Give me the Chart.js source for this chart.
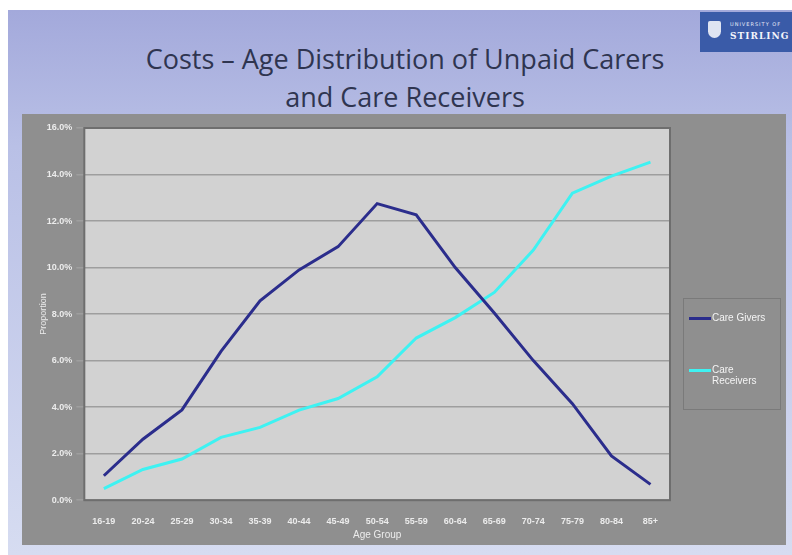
<!DOCTYPE html>
<html>
<head>
<meta charset="utf-8">
<script src="https://cdn.jsdelivr.net/npm/chart.js@4.4.0/dist/chart.umd.min.js"></script>
<style>
  body { margin: 0; background: #fff; width: 792px; height: 555px; overflow: hidden; }
  #slide {
    position: absolute; left: 8px; top: 10px; width: 784px; height: 545px;
    background: linear-gradient(to bottom, #a3a9db 0%, #b9c0e6 25%, #d6dcf1 100%);
  }
  #title {
    position: absolute; left: 0; top: 40px; width: 810px; text-align: center;
    font-family: "Open Sans", sans-serif; font-size: 27px; line-height: 38px; color: #2f3550;
  }
  #logo {
    position: absolute; left: 700px; top: 12px; width: 92px; height: 40px; background: #3a5ba8;
  }
  #logo .shield { position: absolute; left: 8px; top: 9px; width: 13px; height: 17px; background: #dfe4f2; border-radius: 2px 2px 7px 7px; }
  #logo .t1 { position: absolute; left: 30px; top: 9px; font: 5px "DejaVu Sans", sans-serif; color: #e8ecf8; letter-spacing: 1px; }
  #logo .t2 { position: absolute; left: 30px; top: 19px; font: bold 9px "DejaVu Serif", serif; color: #f2f4fb; letter-spacing: 1px; }
  #box { position: absolute; left: 22px; top: 114px; width: 764px; height: 431px; background: #8f8f8f; }
  #legend {
    position: absolute; left: 683px; top: 298px; width: 98px; height: 112px;
    border: 1px solid #7a7a7a; box-sizing: border-box;
    font-family: "Liberation Sans", sans-serif; font-size: 10px; color: #f4f4f4;
  }
  .item { position: absolute; left: 5px; }
  .swatch { display: inline-block; width: 22px; height: 3px; vertical-align: middle; margin-right: 1px; }
</style>
</head>
<body>
<div id="slide"></div>
<div id="title">Costs – Age Distribution of Unpaid Carers<br>and Care Receivers</div>
<div id="logo"><div class="shield"></div><div class="t1">UNIVERSITY OF</div><div class="t2">STIRLING</div></div>
<div id="box"><canvas id="myChart" width="764" height="431"></canvas></div>
<div id="legend">
  <div class="item" style="top:13px"><span class="swatch" style="background:#2b2d8c"></span>Care Givers</div>
  <div class="item" style="top:65px"><span class="swatch" style="background:#3ef2f2"></span>Care<br><span style="padding-left:23px">Receivers</span></div>
</div>
<script>
const ctx = document.getElementById('myChart');

// dati
let gruppiEta = ["16-19","20-24","25-29","30-34","35-39","40-44","45-49","50-54","55-59","60-64","65-69","70-74","75-79","80-84","85+"];
let careGivers = [1.05, 2.62, 3.88, 6.4, 8.57, 9.9, 10.9, 12.75, 12.27, 10.0, 8.05, 6.0, 4.15, 1.9, 0.68];
let careReceivers = [0.5, 1.32, 1.77, 2.7, 3.13, 3.87, 4.37, 5.3, 6.97, 7.85, 8.93, 10.75, 13.2, 13.93, 14.53];
let tickY = [0, 2, 4, 6, 8, 10, 12, 14, 16];

// sfondo grigio chiaro dell'area del grafico
const sfondoArea = {
  id: 'sfondoArea',
  beforeDraw(chart) {
    const a = chart.chartArea;
    const c = chart.ctx;
    c.save();
    c.fillStyle = '#d2d2d2';
    c.fillRect(a.left, a.top, a.right - a.left, a.bottom - a.top);
    c.restore();
  },
  afterDatasetsDraw(chart) {
    const a = chart.chartArea;
    const c = chart.ctx;
    c.save();
    c.strokeStyle = '#6e6e6e';
    c.lineWidth = 2;
    c.strokeRect(a.left, a.top, a.right - a.left, a.bottom - a.top);
    c.restore();
  }
};

new Chart(ctx, {
  type: 'line',
  data: {
    labels: gruppiEta,
    datasets: [{
      label: 'Care Givers',
      data: careGivers,
      borderColor: '#2b2d8c',
      borderWidth: 3,
      pointRadius: 0,
      tension: 0
    }, {
      label: 'Care Receivers',
      data: careReceivers,
      borderColor: '#3ef2f2',
      borderWidth: 3,
      pointRadius: 0,
      tension: 0
    }]
  },
  options: {
    responsive: false,
    animation: false,
    layout: { padding: { left: 16, right: 116, top: 14, bottom: 4 } },
    plugins: {
      legend: { display: false },
      tooltip: { enabled: false }
    },
    scales: {
      x: {
        offset: true,
        grid: { display: false },
        border: { display: false },
        ticks: {
          color: '#ececec', maxRotation: 0, autoSkip: false, padding: 8,
          font: { family: 'Liberation Sans', size: 9, weight: 'bold' }
        },
        title: {
          display: true, text: 'Age Group', color: '#ececec', padding: { top: -6, bottom: 0 },
          font: { family: 'Liberation Sans', size: 10 }
        }
      },
      y: {
        min: 0, max: 16,
        afterBuildTicks(axis) { axis.ticks = tickY.map(v => ({ value: v })); },
        grid: { color: '#9e9e9e', lineWidth: 1.5, drawTicks: true, tickLength: 8 },
        border: { display: false },
        ticks: {
          color: '#ececec', padding: 4,
          font: { family: 'Liberation Sans', size: 9, weight: 'bold' },
          callback: v => v.toFixed(1) + '%'
        },
        title: {
          display: true, text: 'Proportion', color: '#ececec', padding: { top: 0, bottom: -6 },
          font: { family: 'Liberation Sans', size: 9 }
        }
      }
    }
  },
  plugins: [sfondoArea]
});
</script>
</body>
</html>
